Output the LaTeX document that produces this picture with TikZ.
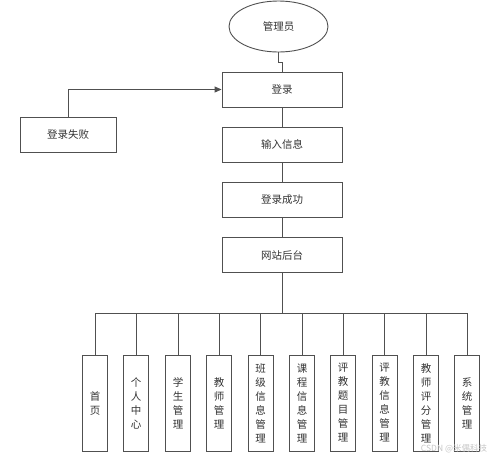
\documentclass[tikz,border=0pt]{standalone}
\usepackage{fontspec}
\setmainfont{Noto Sans CJK SC}
\usetikzlibrary{shapes.geometric,arrows.meta}
\definecolor{ln}{HTML}{505050}
\definecolor{tx}{HTML}{333333}
\tikzset{
  box/.style={draw=ln,line width=0.9pt,minimum width=120pt,minimum height=35pt,inner sep=0pt,text=tx,font=\fontsize{10.5}{12}\selectfont},
  leaf/.style={draw=ln,line width=0.9pt,minimum width=25pt,minimum height=96pt,inner sep=0pt,text=tx,align=center,font=\fontsize{10.5}{14}\selectfont},
  conn/.style={draw=ln,line width=0.9pt}
}
\begin{document}
\begin{tikzpicture}[x=1pt,y=-1pt]
\useasboundingbox (0,0) rectangle (499,456);
\node[ellipse,draw=ln,line width=0.9pt,minimum width=99pt,minimum height=51pt,inner sep=0pt,text=tx,font=\fontsize{10.5}{12}\selectfont] (admin) at (278.5,26.5) {管理员};
\node[box] (login) at (282,89.5) {登录};
\node[box,minimum width=96pt] (fail) at (68,134.5) {登录失败};
\node[box] (input) at (282,144.5) {输入信息};
\node[box] (ok) at (282,199.5) {登录成功};
\node[box] (back) at (282,255) {网站后台};
\coordinate (bus) at (282,313);
\draw[conn] (admin.south) -- ++(0,10) -| (login.north);
\draw[conn,-{Triangle[length=7pt,width=6pt]}] (fail.north) |- (login.west);
\draw[conn] (login) -- (input);
\draw[conn] (input) -- (ok);
\draw[conn] (ok) -- (back);
\draw[conn] (back.south) -- (bus);
\foreach \n/\x/\t in {l1/95/首\\页,l2/136/个\\人\\中\\心,l3/178/学\\生\\管\\理,l4/219/教\\师\\管\\理,l5/260.5/班\\级\\信\\息\\管\\理,l6/302/课\\程\\信\\息\\管\\理,l7/343/评\\教\\题\\目\\管\\理,l8/384.5/评\\教\\信\\息\\管\\理,l9/426/教\\师\\评\\分\\管\\理,l10/467/系\\统\\管\\理}{
  \node[leaf] (\n) at (\x,403) {\t};
  \draw[conn] (\n.north) -- (\x,313);
}
\draw[conn] (l1.north |- bus) -- (l10.north |- bus);
\node[text=gray!45,font=\fontsize{8.5}{10}\selectfont,inner sep=0pt] (wm) at (454,448.5) {CSDN @米偶科技};
\end{tikzpicture}
\end{document}
